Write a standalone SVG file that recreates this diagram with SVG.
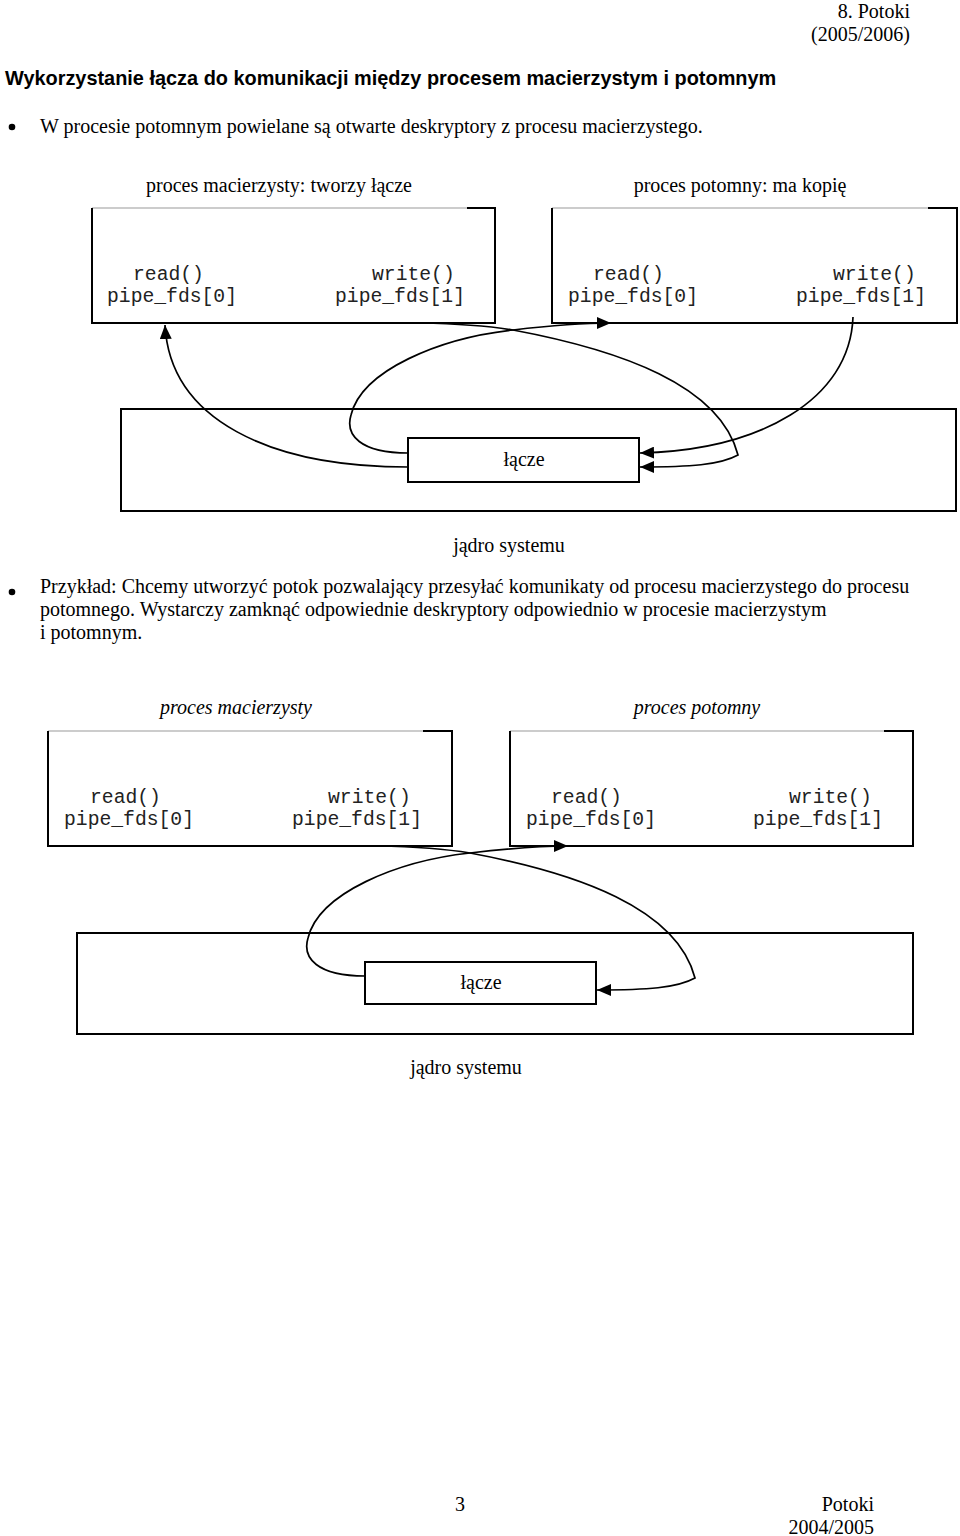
<svg xmlns="http://www.w3.org/2000/svg" width="960" height="1536" viewBox="0 0 960 1536">
<style>
.s{font-family:"Liberation Serif","Times New Roman",serif;font-size:20px;fill:#000}
.i{font-style:italic}
.m{font-family:"Liberation Mono","Courier New",monospace;font-size:19.7px;fill:#222}
.t{font-family:"Liberation Sans",Arial,sans-serif;font-size:19.9px;font-weight:bold;fill:#000}
.bx{fill:none;stroke:#000;stroke-width:2}
.gr{fill:none;stroke:#bbb;stroke-width:1.5}
.c{fill:none;stroke:#000;stroke-width:1.7}
</style>
<defs>
<marker id="ah" viewBox="0 0 14 12" refX="14" refY="6" markerWidth="14" markerHeight="12" orient="auto" markerUnits="userSpaceOnUse"><path d="M0,0 L14,6 L0,12 z" fill="#000"/></marker>
</defs>
<rect width="960" height="1536" fill="#fff"/>

<g id="header">
<text class="s" x="910" y="18" text-anchor="end">8. Potoki</text>
<text class="s" x="910" y="41" text-anchor="end">(2005/2006)</text>
<text class="t" x="5" y="85">Wykorzystanie łącza do komunikacji między procesem macierzystym i potomnym</text>
<circle cx="12" cy="127" r="3.3" fill="#000"/>
<text class="s" x="40" y="133">W procesie potomnym powielane są otwarte deskryptory z procesu macierzystego.</text>
</g>

<g id="parent1">
<text class="s" x="279" y="192" text-anchor="middle">proces macierzysty: tworzy łącze</text>
<path class="gr" d="M92,208 H467"/>
<path class="bx" d="M467,208 H495 V323 H92 V208"/>
<text class="m" x="133" y="280">read()</text>
<text class="m" x="107" y="302">pipe_fds[0]</text>
<text class="m" x="372" y="280">write()</text>
<text class="m" x="335" y="302">pipe_fds[1]</text>
</g>

<g id="child1">
<text class="s" x="740" y="192" text-anchor="middle">proces potomny: ma kopię</text>
<path class="gr" d="M552,208 H928"/>
<path class="bx" d="M928,208 H957 V323 H552 V208"/>
<text class="m" x="593" y="280">read()</text>
<text class="m" x="568" y="302">pipe_fds[0]</text>
<text class="m" x="833" y="280">write()</text>
<text class="m" x="796" y="302">pipe_fds[1]</text>
</g>

<g id="kernel1">
<rect class="bx" x="121" y="409" width="835" height="102"/>
<text class="s" x="509" y="552" text-anchor="middle">jądro systemu</text>
</g>

<g id="pipe1">
<rect class="bx" x="408" y="438" width="231" height="44" fill="#fff"/>
<text class="s" x="524" y="466" text-anchor="middle">łącze</text>
</g>

<g id="text2">
<circle cx="12" cy="592" r="3.3" fill="#000"/>
<text class="s" x="40" y="593">Przykład: Chcemy utworzyć potok pozwalający przesyłać komunikaty od procesu macierzystego do procesu</text>
<text class="s" x="40" y="616">potomnego. Wystarczy zamknąć odpowiednie deskryptory odpowiednio w procesie macierzystym</text>
<text class="s" x="40" y="639">i potomnym.</text>
</g>

<g id="parent2">
<text class="s i" x="236" y="714" text-anchor="middle">proces macierzysty</text>
<path class="gr" d="M48,731 H423"/>
<path class="bx" d="M423,731 H452 V846 H48 V731"/>
<text class="m" x="90" y="803">read()</text>
<text class="m" x="64" y="825">pipe_fds[0]</text>
<text class="m" x="328" y="803">write()</text>
<text class="m" x="292" y="825">pipe_fds[1]</text>
</g>

<g id="child2">
<text class="s i" x="697" y="714" text-anchor="middle">proces potomny</text>
<path class="gr" d="M510,731 H884"/>
<path class="bx" d="M884,731 H913 V846 H510 V731"/>
<text class="m" x="551" y="803">read()</text>
<text class="m" x="526" y="825">pipe_fds[0]</text>
<text class="m" x="789" y="803">write()</text>
<text class="m" x="753" y="825">pipe_fds[1]</text>
</g>

<g id="kernel2">
<rect class="bx" x="77" y="933" width="836" height="101"/>
<text class="s" x="466" y="1074" text-anchor="middle">jądro systemu</text>
</g>

<g id="pipe2">
<rect class="bx" x="365" y="962" width="231" height="42" fill="#fff"/>
<text class="s" x="481" y="989" text-anchor="middle">łącze</text>
</g>

<g id="connectors">
<path class="c" marker-end="url(#ah)" d="M408,467 C270,467 170,420 165,325"/>
<path class="c" marker-end="url(#ah)" d="M408,453 C360,453 345,435 351,415 C362,370 440,338 513,330 C555,325 585,323 611,323"/>
<path class="c" marker-end="url(#ah)" d="M420,323 C470,324 495,327 513,330 C620,350 720,385 738,455 C720,465 690,467 640,467"/>
<path class="c" marker-end="url(#ah)" d="M853,317 C850,400 760,450 640,453"/>
<path class="c" marker-end="url(#ah)" d="M365,976 C317,976 302,958 308,938 C319,893 397,861 470,853 C512,848 542,846 568,846"/>
<path class="c" marker-end="url(#ah)" d="M377,846 C427,847 452,850 470,853 C577,873 677,908 695,978 C677,988 647,990 597,990"/>
</g>

<g id="footer">
<text class="s" x="455" y="1511">3</text>
<text class="s" x="874" y="1511" text-anchor="end">Potoki</text>
<text class="s" x="874" y="1534" text-anchor="end">2004/2005</text>
</g>
</svg>
